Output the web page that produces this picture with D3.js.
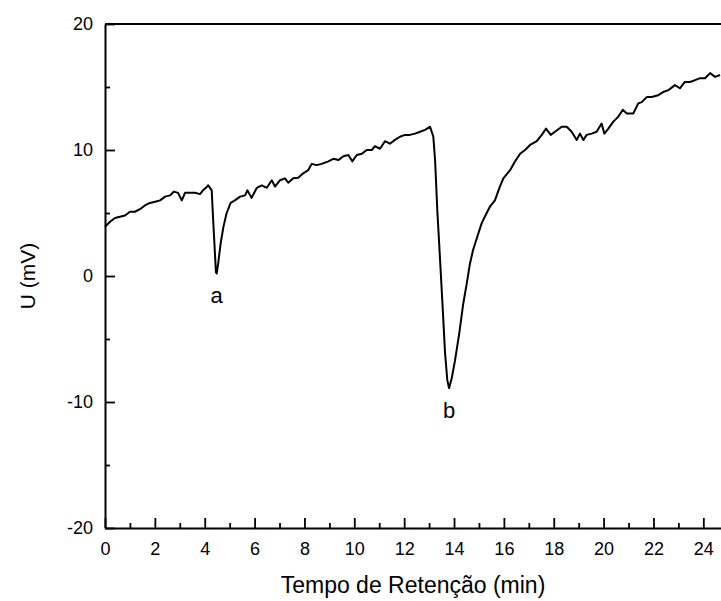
<!DOCTYPE html>
<html>
<head>
<meta charset="utf-8">
<script src="https://cdn.jsdelivr.net/npm/d3@7"></script>
<style>
  body { margin: 0; background: #fff; }
  text { font-family: Arial, "Liberation Sans", sans-serif; fill: #000; }
</style>
</head>
<body>
<div id="chart"></div>
<script>
// retention time (min) and signal (mV)
const times = [
  0.00, 0.20, 0.40, 0.60, 0.80, 1.00, 1.20, 1.40, 1.60, 1.80,
  2.01, 2.21, 2.41, 2.61, 2.77, 2.93, 3.08, 3.21, 3.41, 3.61,
  3.81, 3.93, 4.05, 4.14, 4.28, 4.34, 4.41, 4.45, 4.48, 4.54,
  4.64, 4.75, 4.88, 5.04, 5.21, 5.42, 5.62, 5.71, 5.88, 6.09,
  6.29, 6.49, 6.69, 6.82, 7.02, 7.22, 7.35, 7.55, 7.75, 7.95,
  8.15, 8.29, 8.49, 8.69, 8.96, 9.16, 9.36, 9.56, 9.76, 9.92,
  10.10, 10.30, 10.50, 10.70, 10.83, 11.03, 11.23, 11.43, 11.63, 11.83,
  12.03, 12.23, 12.43, 12.64, 12.84, 13.04, 13.17, 13.24, 13.33, 13.44,
  13.55, 13.64, 13.73, 13.80, 13.91, 14.04, 14.21, 14.37, 14.51, 14.64,
  14.77, 14.93, 15.11, 15.31, 15.44, 15.64, 15.84, 15.98, 16.25, 16.45,
  16.65, 16.85, 17.05, 17.32, 17.52, 17.69, 17.88, 18.05, 18.32, 18.52,
  18.72, 18.92, 19.05, 19.19, 19.32, 19.52, 19.72, 19.92, 20.03, 20.19,
  20.39, 20.59, 20.77, 20.93, 21.19, 21.39, 21.53, 21.73, 21.93, 22.19,
  22.39, 22.60, 22.86, 23.06, 23.26, 23.47, 23.67, 23.87, 24.07, 24.27,
  24.47, 24.67
];
const signal = [
  3.9, 4.3, 4.6, 4.7, 4.8, 5.1, 5.1, 5.3, 5.6, 5.8,
  5.9, 6.0, 6.3, 6.4, 6.7, 6.6, 6.0, 6.6, 6.6, 6.6,
  6.5, 6.8, 7.0, 7.2, 6.8, 4.4, 1.8, 0.3, 0.2, 1.0,
  2.6, 3.9, 5.0, 5.8, 6.0, 6.3, 6.4, 6.8, 6.2, 7.0,
  7.2, 7.0, 7.6, 7.1, 7.6, 7.75, 7.4, 7.75, 7.8, 8.15,
  8.4, 8.9, 8.8, 8.9, 9.1, 9.3, 9.2, 9.5, 9.6, 9.1,
  9.6, 9.7, 10.0, 10.0, 10.3, 10.1, 10.7, 10.5, 10.8, 11.05,
  11.2, 11.2, 11.3, 11.45, 11.6, 11.85, 11.05, 9.2, 5.2, 1.3,
  -2.7, -6.1, -8.25, -8.9, -8.1, -6.7, -4.55, -2.2, -0.6, 1.0,
  2.1, 3.1, 4.2, 5.0, 5.5, 6.0, 7.1, 7.75, 8.4, 9.1,
  9.7, 10.0, 10.4, 10.7, 11.2, 11.7, 11.2, 11.45, 11.85, 11.85,
  11.45, 10.8, 11.3, 10.8, 11.2, 11.3, 11.45, 12.1, 11.3, 11.7,
  12.25, 12.65, 13.2, 12.9, 12.9, 13.7, 13.8, 14.2, 14.2, 14.35,
  14.6, 14.75, 15.15, 14.9, 15.4, 15.4, 15.55, 15.7, 15.7, 16.1,
  15.8, 15.95
];
const xTicks = [0, 2, 4, 6, 8, 10, 12, 14, 16, 18, 20, 22, 24];
const xMinorTicks = d3.range(1, 25, 2);
const yTicks = [-20, -10, 0, 10, 20];
const yMinorTicks = [-15, -5, 5, 15];
const peakLabels = ["a", "b"];
const peakTimes = [4.48, 13.80];
const peakValues = [0.2, -8.9];

const data = times.map((t, i) => ({ t: t, u: signal[i] }));

// Set the dimensions and margins of the graph
let margin = { top: 24, right: 0, bottom: 73, left: 105 },
  width = 721 - margin.left - margin.right,
  height = 601 - margin.top - margin.bottom;

let svg = d3
  .select("#chart")
  .append("svg")
  .attr("width", 721)
  .attr("height", 601)
  .append("g")
  .attr("transform", "translate(" + margin.left + "," + margin.top + ")");

// axis runs to 25 min, right part falls off the picture
let x = d3.scaleLinear().domain([0, 25]).range([0, 25 * 24.93]);
let y = d3.scaleLinear().domain([-20, 20]).range([height, 0]);

// plain hyphen for negatives, like the original
const fmt = (d) => String(d);

// minor ticks first, then major with labels
svg
  .append("g")
  .attr("transform", "translate(0," + height + ")")
  .call(d3.axisBottom(x).tickValues(xMinorTicks).tickSize(-5).tickFormat(""))
  .call((g) => g.select(".domain").remove());

const xAxis = svg
  .append("g")
  .attr("transform", "translate(0," + height + ")")
  .call(
    d3
      .axisBottom(x)
      .tickValues(xTicks)
      .tickSize(-10)
      .tickPadding(14)
      .tickSizeOuter(0)
      .tickFormat(fmt)
  );

svg
  .append("g")
  .call(d3.axisLeft(y).tickValues(yMinorTicks).tickSize(-5).tickFormat(""))
  .call((g) => g.select(".domain").remove());

const yAxis = svg
  .append("g")
  .call(
    d3
      .axisLeft(y)
      .tickValues(yTicks)
      .tickSize(-10)
      .tickPadding(12)
      .tickSizeOuter(0)
      .tickFormat(fmt)
  );

svg.selectAll(".tick line").attr("stroke", "#000").attr("stroke-width", 1.8);
svg.selectAll(".domain").attr("stroke", "#000").attr("stroke-width", 2);
svg.selectAll(".tick text").style("font-size", "18px");

// top frame line
svg
  .append("line")
  .attr("x1", 0)
  .attr("x2", x(25))
  .attr("y1", 0)
  .attr("y2", 0)
  .attr("stroke", "#000")
  .attr("stroke-width", 2);

// the trace
const line = d3
  .line()
  .x((d) => x(d.t))
  .y((d) => y(d.u));

svg
  .append("path")
  .datum(data)
  .attr("fill", "none")
  .attr("stroke", "#000")
  .attr("stroke-width", 2)
  .attr("stroke-linejoin", "round")
  .attr("d", line);

// peak labels
svg
  .selectAll(".peak-label")
  .data(peakLabels)
  .enter()
  .append("text")
  .attr("class", "peak-label")
  .attr("x", (d, i) => x(peakTimes[i]))
  .attr("y", (d, i) => y(peakValues[i]) + 30)
  .attr("text-anchor", "middle")
  .style("font-size", "22px")
  .text((d) => d);

// axis titles
svg
  .append("text")
  .attr("x", (721 - margin.left) / 2)
  .attr("y", height + 65)
  .attr("text-anchor", "middle")
  .style("font-size", "23px")
  .text("Tempo de Retenção (min)");

svg
  .append("text")
  .attr("transform", "rotate(-90)")
  .attr("x", -height / 2)
  .attr("y", -70)
  .attr("text-anchor", "middle")
  .style("font-size", "21px")
  .text("U (mV)");
</script>
</body>
</html>
